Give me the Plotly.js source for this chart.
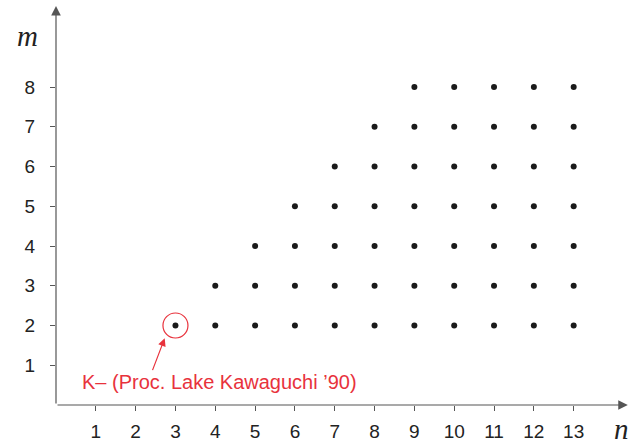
<!DOCTYPE html>
<html><head><meta charset="utf-8">
<script src="https://cdn.plot.ly/plotly-3.0.1.min.js"></script>
<style>html,body{margin:0;padding:0;background:#fff}</style>
</head><body>
<div id="chart" style="width:633px;height:441px"></div>
<script>
// Data
var nValues = [3, 4, 5, 6, 7, 8, 9, 10, 11, 12, 13];
var mMax    = [2, 3, 4, 5, 6, 7, 8, 8, 8, 8, 8];
var mMin = 2;
var xTicks = [1,2,3,4,5,6,7,8,9,10,11,12,13];
var yTicks = [1,2,3,4,5,6,7,8];
var highlight = {n: 3, m: 2, label: 'K\u2013 (Proc. Lake Kawaguchi \u201990)'};

var px = [], py = [];
for (var i = 0; i < nValues.length; i++) {
  for (var m = mMin; m <= mMax[i]; m++) { px.push(nValues[i]); py.push(m); }
}

var axisColor = '#555';
var red = '#e8323c';
var xr = [0, 14.49], yr = [0, 10.14];

var traces = [
  {x: px, y: py, type: 'scatter', mode: 'markers', cliponaxis: false,
   marker: {size: 6, color: '#1a1a1a'}, hoverinfo: 'none'},
  {x: [highlight.n], y: [highlight.m], type: 'scatter', mode: 'markers', cliponaxis: false,
   marker: {size: 25, symbol: 'circle-open', color: red, line: {width: 1.2, color: red}}, hoverinfo: 'none'}
];

var tickFont = {family: 'Liberation Sans, Arial, sans-serif', size: 19, color: '#222'};
var serif = {family: 'Liberation Serif, DejaVu Serif, serif', size: 29, color: '#222', style: 'italic'};
var layout = {
  width: 633, height: 441,
  margin: {l: 56, r: 0, t: 2, b: 36},
  paper_bgcolor: '#fff', plot_bgcolor: '#fff',
  showlegend: false,
  xaxis: {range: xr, tickvals: xTicks, ticks: 'outside', ticklen: 5, tickcolor: axisColor, tickwidth: 1,
          showgrid: false, zeroline: false, showline: false, tickfont: tickFont, ticklabelstandoff: 4, fixedrange: true},
  xaxis2: {range: xr, tickvals: xTicks, ticks: 'inside', ticklen: 5, tickcolor: axisColor, tickwidth: 1,
           overlaying: 'x', anchor: 'y', showticklabels: false, showgrid: false, zeroline: false, showline: false},
  yaxis: {range: yr, tickvals: yTicks, ticks: 'outside', ticklen: 5, tickcolor: axisColor, tickwidth: 1,
          showgrid: false, zeroline: false, showline: false, tickfont: tickFont, ticklabelstandoff: 11, fixedrange: true},
  yaxis2: {range: yr, tickvals: yTicks, ticks: 'inside', ticklen: 5, tickcolor: axisColor, tickwidth: 1,
           overlaying: 'y', anchor: 'x', showticklabels: false, showgrid: false, zeroline: false, showline: false},
  annotations: [
    {x: 14.36, y: 0, ax: 0, ay: 0, axref: 'x', ayref: 'y', xref: 'x', yref: 'y', text: '', showarrow: true,
     arrowhead: 2, arrowsize: 1.6, arrowwidth: 1.2, arrowcolor: axisColor},
    {x: 0, y: 10.04, ax: 0, ay: 0, axref: 'x', ayref: 'y', xref: 'x', yref: 'y', text: '', showarrow: true,
     arrowhead: 2, arrowsize: 1.6, arrowwidth: 1.2, arrowcolor: axisColor},
    {x: -0.0494, y: 0.9156, xref: 'paper', yref: 'paper', xanchor: 'center', yanchor: 'middle',
     text: 'm', showarrow: false, font: serif},
    {x: 0.980, y: -0.0596, xref: 'paper', yref: 'paper', xanchor: 'center', yanchor: 'middle',
     text: 'n', showarrow: false, font: serif},
    {x: 2.73, y: 1.68, ax: 2.41, ay: 0.84, axref: 'x', ayref: 'y', xref: 'x', yref: 'y', text: '', showarrow: true,
     arrowhead: 2, arrowsize: 1.3, arrowwidth: 1.2, arrowcolor: red},
    {x: 4.11, y: 0.57, xref: 'x', yref: 'y', text: highlight.label, showarrow: false,
     font: {family: 'Liberation Sans, Arial, sans-serif', size: 20, color: red}}
  ]
};
Plotly.newPlot('chart', traces, layout, {staticPlot: true, displayModeBar: false});
</script>
</body></html>
